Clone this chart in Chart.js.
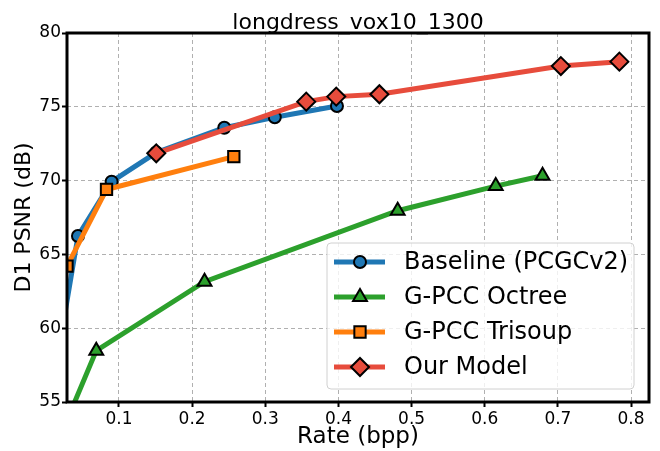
<!DOCTYPE html>
<html>
<head>
<meta charset="utf-8">
<script src="https://cdn.jsdelivr.net/npm/chart.js@4.4.1/dist/chart.umd.min.js"></script>
<style>
  body { margin: 0; background: #fff; }
  canvas { display: block; }
</style>
</head>
<body>
<canvas id="grafico" width="660" height="451"></canvas>
<script>
// dados (rate em bpp, PSNR em dB)
const rateBaseline = [0.020, 0.044, 0.090, 0.151, 0.244, 0.313, 0.398];
const psnrBaseline = [59.2, 66.25, 69.93, 71.9, 73.58, 74.29, 75.05];

const rateOctree = [0.031, 0.069, 0.217, 0.481, 0.615, 0.679];
const psnrOctree = [54.0, 58.48, 63.15, 67.96, 69.63, 70.33];

const rateTrisoup = [0.029, 0.083, 0.257];
const psnrTrisoup = [64.2, 69.4, 71.62];

const rateOurs = [0.151, 0.356, 0.397, 0.456, 0.704, 0.784];
const psnrOurs = [71.85, 75.35, 75.69, 75.85, 77.76, 78.06];

const xTicks = [0.1, 0.2, 0.3, 0.4, 0.5, 0.6, 0.7, 0.8];
const yTicks = [55, 60, 65, 70, 75, 80];

const titulo = 'longdress_vox10_1300';

const pontos = (xs, ys) => xs.map((x, i) => ({ x: x, y: ys[i] }));

// título desenhado colado na moldura (a moldura cobre os sublinhados, como no original)
const tituloPlugin = {
    id: 'tituloPlugin',
    beforeDatasetsDraw(chart) {
        const { ctx, chartArea: a } = chart;
        ctx.save();
        ctx.fillStyle = '#000';
        ctx.font = '22px "DejaVu Sans"';
        ctx.textAlign = 'center';
        ctx.textBaseline = 'alphabetic';
        ctx.fillText(titulo, (a.left + a.right) / 2, a.top - 4);
        ctx.restore();
    }
};

// moldura preta em volta da área do gráfico
const moldura = {
    id: 'moldura',
    afterDatasetsDraw(chart) {
        const { ctx, chartArea: a } = chart;
        ctx.save();
        ctx.strokeStyle = '#000';
        ctx.lineWidth = 3;
        ctx.strokeRect(a.left, a.top, a.right - a.left, a.bottom - a.top);
        ctx.restore();
    }
};

// legenda dentro do gráfico, canto inferior direito
const legendaInterna = {
    id: 'legendaInterna',
    afterDraw(chart) {
        const { ctx, chartArea: a } = chart;
        const larg = 307, alt = 146;
        const x0 = a.right - 15 - larg;
        const y0 = a.bottom - 13 - alt;
        ctx.save();
        ctx.fillStyle = 'rgba(255,255,255,0.8)';
        ctx.strokeStyle = '#d0d0d0';
        ctx.lineWidth = 1;
        ctx.beginPath();
        ctx.roundRect(x0, y0, larg, alt, 4);
        ctx.fill();
        ctx.stroke();

        chart.data.datasets.forEach((ds, i) => {
            const y = y0 + 19 + i * 35;
            ctx.strokeStyle = ds.borderColor;
            ctx.lineWidth = 5;
            ctx.beginPath();
            ctx.moveTo(x0 + 7, y);
            ctx.lineTo(x0 + 58, y);
            ctx.stroke();
            ctx.fillStyle = ds.pointBackgroundColor;
            ctx.strokeStyle = '#000';
            ctx.lineWidth = 2;
            Chart.helpers.drawPoint(ctx, {
                pointStyle: ds.pointStyle,
                radius: ds.pointRadius,
                borderWidth: 2,
                rotation: 0
            }, x0 + 33, y);
            ctx.fillStyle = '#000';
            ctx.font = '24px "DejaVu Sans"';
            ctx.textBaseline = 'middle';
            ctx.textAlign = 'left';
            ctx.fillText(ds.label, x0 + 77, y + 1);
        });
        ctx.restore();
    }
};

const serie = (label, xs, ys, cor, estilo, raio, ordem) => ({
    label: label,
    data: pontos(xs, ys),
    borderColor: cor,
    backgroundColor: cor,
    borderWidth: 5,
    pointStyle: estilo,
    pointRadius: raio,
    pointHoverRadius: raio,
    pointBackgroundColor: cor,
    pointBorderColor: '#000',
    pointBorderWidth: 2,
    tension: 0,
    clip: 0,
    order: ordem
});

new Chart(document.getElementById('grafico'), {
    type: 'line',
    data: {
        datasets: [
            serie('Baseline (PCGCv2)', rateBaseline, psnrBaseline, '#1f77b4', 'circle', 6, 3),
            serie('G-PCC Octree', rateOctree, psnrOctree, '#2ca02c', 'triangle', 8, 2),
            serie('G-PCC Trisoup', rateTrisoup, psnrTrisoup, '#ff7f0e', 'rect', 8, 1),
            serie('Our Model', rateOurs, psnrOurs, '#e74c3c', 'rectRot', 9, 0)
        ]
    },
    plugins: [tituloPlugin, moldura, legendaInterna],
    options: {
        responsive: false,
        animation: false,
        devicePixelRatio: 1,
        layout: { padding: { left: 0, right: 8, top: 33, bottom: 0 } },
        plugins: {
            legend: { display: false },
            tooltip: { enabled: false },
            title: { display: false }
        },
        scales: {
            x: {
                type: 'linear',
                min: 0.029,
                max: 0.8245,
                afterFit: s => { s.height = 49; },
                afterBuildTicks: s => { s.ticks = xTicks.map(v => ({ value: v })); },
                grid: { color: '#b0b0b0', lineWidth: 1, tickColor: '#000', tickLength: 5, tickWidth: 2, tickBorderDash: [] },
                border: { display: false, dash: [4, 3] },
                ticks: {
                    color: '#000',
                    padding: 2,
                    maxRotation: 0,
                    font: { family: 'DejaVu Sans', size: 17 },
                    callback: v => v.toFixed(1)
                },
                title: {
                    display: true,
                    text: 'Rate (bpp)',
                    color: '#000',
                    font: { family: 'DejaVu Sans', size: 23 },
                    padding: { top: 2, bottom: 0 }
                }
            },
            y: {
                min: 55,
                max: 80,
                afterFit: s => { s.width = 67; },
                afterBuildTicks: s => { s.ticks = yTicks.map(v => ({ value: v })); },
                grid: { color: '#b0b0b0', lineWidth: 1, tickColor: '#000', tickLength: 5, tickWidth: 2, tickBorderDash: [] },
                border: { display: false, dash: [4, 3] },
                ticks: {
                    color: '#000',
                    padding: 1,
                    font: { family: 'DejaVu Sans', size: 17 }
                },
                title: {
                    display: true,
                    text: 'D1 PSNR (dB)',
                    color: '#000',
                    font: { family: 'DejaVu Sans', size: 22 },
                    padding: { top: 11, bottom: 0 }
                }
            }
        }
    }
});
</script>
</body>
</html>
